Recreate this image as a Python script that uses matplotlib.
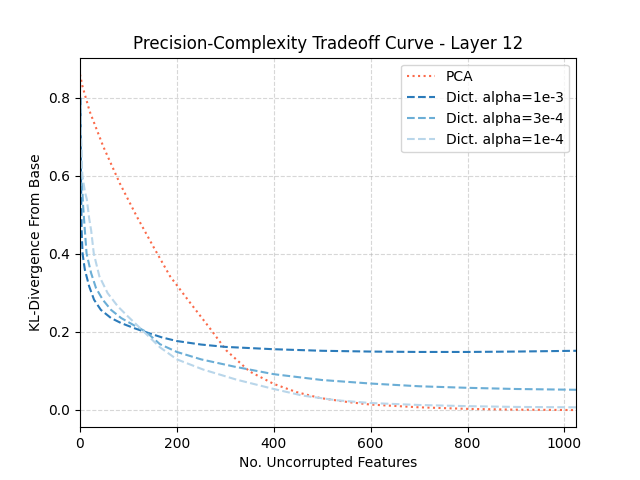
import matplotlib
matplotlib.use("Agg")
import matplotlib.pyplot as plt

pca_x = [0, 5, 20, 48, 82, 117, 151, 186, 225, 268, 302, 350, 400, 447, 495, 550, 600, 700, 800, 900, 1024]
pca_y = [0.86, 0.83, 0.765, 0.675, 0.581, 0.496, 0.419, 0.342, 0.278, 0.209, 0.152, 0.098, 0.066, 0.045,
         0.030, 0.020, 0.013, 0.006, 0.002, 0.0, -0.001]

d1_x = [1, 2, 3.3, 5.3, 10, 19, 29, 43, 64, 85, 112, 133, 170, 200, 250, 300, 400, 500, 600, 700, 800, 900, 1024]
d1_y = [0.80, 0.60, 0.46, 0.40, 0.359, 0.316, 0.282, 0.256, 0.235, 0.222, 0.209, 0.20, 0.185, 0.176,
        0.167, 0.161, 0.155, 0.151, 0.149, 0.148, 0.148, 0.149, 0.151]

d2_x = [1, 3, 6, 10, 13.6, 23, 33, 47, 64, 85, 112, 136, 165, 200, 250, 320, 400, 500, 600, 700, 800, 900, 1024]
d2_y = [0.78, 0.62, 0.53, 0.46, 0.40, 0.35, 0.312, 0.282, 0.256, 0.235, 0.216, 0.20, 0.168, 0.148,
        0.129, 0.11, 0.091, 0.076, 0.067, 0.06, 0.056, 0.053, 0.051]

d3_x = [1, 3, 5, 10, 14, 19, 23, 28.5, 40, 57, 78, 99, 126, 165, 200, 254, 323, 400, 460, 530, 600, 700, 800, 900, 1024]
d3_y = [0.78, 0.64, 0.60, 0.56, 0.54, 0.49, 0.46, 0.40, 0.342, 0.299, 0.265, 0.239, 0.207, 0.16, 0.129,
        0.103, 0.077, 0.053, 0.036, 0.024, 0.017, 0.012, 0.009, 0.007, 0.006]

labels = ["PCA", "Dict. alpha=1e-3", "Dict. alpha=3e-4", "Dict. alpha=1e-4"]
colors = ["#fb6a4a", "#2b7bba", "#6baed6", "#b9d6ea"]

fig, ax = plt.subplots(figsize=(6.4, 4.8), dpi=100)
ax.plot(pca_x, pca_y, linestyle=":", color=colors[0], label=labels[0])
ax.plot(d1_x, d1_y, linestyle="--", color=colors[1], label=labels[1])
ax.plot(d2_x, d2_y, linestyle="--", color=colors[2], label=labels[2])
ax.plot(d3_x, d3_y, linestyle="--", color=colors[3], label=labels[3])
ax.set_xlim(0, 1024)
ax.set_ylim(-0.045, 0.903)
ax.grid(True, linestyle="--", alpha=0.5)
ax.set_xlabel("No. Uncorrupted Features")
ax.set_ylabel("KL-Divergence From Base")
ax.set_title("Precision-Complexity Tradeoff Curve - Layer 12")
ax.legend(loc="upper right")
fig.savefig("out.png", dpi=100)
